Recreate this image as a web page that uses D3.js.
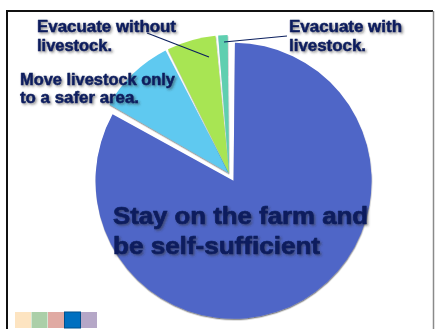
<!DOCTYPE html>
<html><head><meta charset="utf-8">
<script src="https://cdn.jsdelivr.net/npm/d3@7/dist/d3.min.js"></script>
<style>html,body{margin:0;padding:0;background:#fff;}svg{display:block;}</style>
</head><body>
<script>
// ---- data ----
const categories = ["Stay on the farm and be self-sufficient", "Move livestock only to a safer area.", "Evacuate without livestock.", "Evacuate with livestock."];
const values = [83.9, 9.2, 5.8, 1.1];
const sliceColors = ["#5066c7", "#5fc9f0", "#a8e553", "#5fcfb0"];
const legendColors = ["#fde4c1", "#abcfa8", "#e0aaa3", "#0070c0", "#b5a7c7"];
// label lines (text only)
const labelLines = [
  ["Stay on the farm and", "be self-sufficient"],
  ["Move livestock only", "to a safer area."],
  ["Evacuate without", "livestock."],
  ["Evacuate with", "livestock."]
];

const W = 435, H = 329;
const svg = d3.select("body").append("svg").attr("width", W).attr("height", H);
const defs = svg.append("defs");
const f1 = defs.append("filter").attr("id","tshadow").attr("x","-10%").attr("y","-20%").attr("width","130%").attr("height","160%");
f1.append("feDropShadow").attr("dx",1.5).attr("dy",1.5).attr("stdDeviation",0.8).attr("flood-color","#333").attr("flood-opacity",0.55);
const f2 = defs.append("filter").attr("id","pshadow").attr("x","-10%").attr("y","-10%").attr("width","130%").attr("height","130%");
f2.append("feDropShadow").attr("dx",0.3).attr("dy",1.3).attr("stdDeviation",0.7).attr("flood-color","#000").attr("flood-opacity",0.5);

// frame
svg.append("line").attr("x1",7).attr("y1",11).attr("x2",433).attr("y2",11).attr("stroke","#111").attr("stroke-width",2);
svg.append("line").attr("x1",7).attr("y1",10).attr("x2",7).attr("y2",H).attr("stroke","#111").attr("stroke-width",2);
svg.append("line").attr("x1",433.5).attr("y1",11).attr("x2",433.5).attr("y2",H).attr("stroke","#8a8a8a").attr("stroke-width",1.5);

// pie
const cx = 229, cy = 173, R = 138, explode = 9;
const pie = d3.pie().sort(null).startAngle(0).endAngle(2*Math.PI).padAngle(0.02)(values);
const arc = d3.arc().innerRadius(0).outerRadius(R).padRadius(R);
const g = svg.append("g").attr("transform",`translate(${cx},${cy})`);
g.selectAll("path").data(pie).join("path")
  .attr("d", arc)
  .attr("fill", (d,i)=>sliceColors[i])
  .attr("filter","url(#pshadow)")
  .attr("transform",(d,i)=>{
    if(i!==0) return null;
    const a = (d.startAngle+d.endAngle)/2;
    return `translate(${explode*Math.sin(a)},${-explode*Math.cos(a)})`;
  });

// leader lines
const navy = "#0b1f5e";
svg.append("line").attr("x1",147).attr("y1",33).attr("x2",209).attr("y2",57).attr("stroke",navy).attr("stroke-width",1.2);
svg.append("line").attr("x1",224).attr("y1",42).attr("x2",287).attr("y2",36).attr("stroke",navy).attr("stroke-width",1.2);

// labels
const labelPos = [
  {x:113, y:[224,254], size:24, w:[255,207], sw:0.7},
  {x:20, y:[85,103], size:16, w:[155,119], sw:0.5},
  {x:37, y:[32,51], size:16, w:[139,75], sw:0.5},
  {x:289, y:[32,51], size:16, w:[113,77], sw:0.5}
];
labelLines.forEach((lines,i)=>{
  const p = labelPos[i];
  lines.forEach((t,j)=>{
    svg.append("text").attr("x",p.x).attr("y",p.y[j])
      .attr("font-family","'Liberation Sans', Arial, sans-serif").attr("font-weight","bold")
      .attr("font-size",p.size).attr("fill",navy)
      .attr("stroke",navy).attr("stroke-width",p.sw).attr("stroke-linejoin","round")
      .attr("textLength",p.w[j]).attr("lengthAdjust","spacingAndGlyphs")
      .attr("filter","url(#tshadow)")
      .text(t);
  });
});

// legend swatches
const lx = d3.scaleBand().domain(d3.range(legendColors.length)).range([15,97]).paddingInner(0.03);
svg.selectAll("rect.sw").data(legendColors).join("rect").attr("class","sw")
  .attr("x",(d,i)=>lx(i)).attr("y",312).attr("width",lx.bandwidth()).attr("height",16)
  .attr("fill",d=>d)
  .attr("stroke",(d,i)=>i===3?"#00508c":"none").attr("stroke-width",1);
</script>
</body></html>
